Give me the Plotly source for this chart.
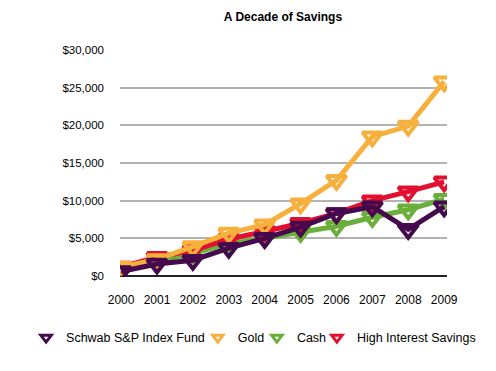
import plotly.graph_objects as go

years = ["2000", "2001", "2002", "2003", "2004", "2005", "2006", "2007", "2008", "2009"]
schwab = [600, 1600, 2100, 3700, 5000, 6500, 8300, 9200, 6200, 9200]
gold = [1200, 2200, 3900, 5700, 6800, 9600, 12700, 18500, 19900, 25800]
cash = [1000, 1900, 3000, 4300, 5000, 5800, 6600, 7800, 8800, 10200]
high_interest = [1200, 2500, 3400, 4900, 5900, 7000, 8300, 10000, 11200, 12500]

y_ticks = [0, 5000, 10000, 15000, 20000, 25000, 30000]
y_tick_labels = ["$0", "$5,000", "$10,000", "$15,000", "$20,000", "$25,000", "$30,000"]

FONT = "Liberation Sans, Arial, sans-serif"

# (name, values, colour, legend id, legend left edge in container fraction)
series = [
    ("Cash", cash, "#6aaf3b", "legend3", 0.510),
    ("High Interest Savings", high_interest, "#e2102e", "legend4", 0.633),
    ("Gold", gold, "#f7b03c", "legend2", 0.389),
    ("Schwab S&P Index Fund", schwab, "#45094d", "legend", 0.037),
]

fig = go.Figure()
xs = list(range(len(years)))
for name, vals, color, lg, lx in series:
    fig.add_trace(go.Scatter(
        x=xs, y=vals, mode="lines+markers", name=name, showlegend=False,
        line=dict(color=color, width=5),
        marker=dict(symbol="triangle-down-open", size=17, color=color,
                    line=dict(color=color, width=4)),
    ))
for name, vals, color, lg, lx in series:
    fig.add_trace(go.Scatter(
        x=[None], y=[None], mode="markers", name=name, legend=lg,
        marker=dict(symbol="triangle-down-open", size=9, color=color,
                    line=dict(color=color, width=3)),
    ))

legend_common = dict(orientation="h", xref="container", yref="container",
                     xanchor="left", y=0.091, yanchor="middle",
                     font=dict(size=12.5, family=FONT), itemwidth=30,
                     bgcolor="rgba(0,0,0,0)", borderwidth=0)

layout_legends = {}
for name, vals, color, lg, lx in series:
    layout_legends[lg] = dict(legend_common, x=lx)

fig.update_layout(
    width=488, height=363,
    margin=dict(l=112, r=49, t=42, b=95, autoexpand=False),
    paper_bgcolor="white", plot_bgcolor="white",
    font=dict(family=FONT, size=12, color="black"),
    title=dict(text="<b>A Decade of Savings</b>", x=0.5635, xanchor="center",
               y=0.975, yanchor="middle", font=dict(size=12, family=FONT)),
    xaxis=dict(tickmode="array", tickvals=xs, ticktext=years, range=[-0.03, 9.08],
               showgrid=False, zeroline=False, showline=False, ticks="",
               ticklabelstandoff=15, tickfont=dict(size=12)),
    yaxis=dict(tickmode="array", tickvals=y_ticks, ticktext=y_tick_labels,
               range=[0, 30000], showgrid=True, gridcolor="#b3b3b3", gridwidth=1.5,
               zeroline=True, zerolinecolor="#222222", zerolinewidth=1.5,
               showline=False, ticks="", ticklabelstandoff=15, tickfont=dict(size=11.5)),
    **layout_legends,
)

fig.write_html("out.html")
